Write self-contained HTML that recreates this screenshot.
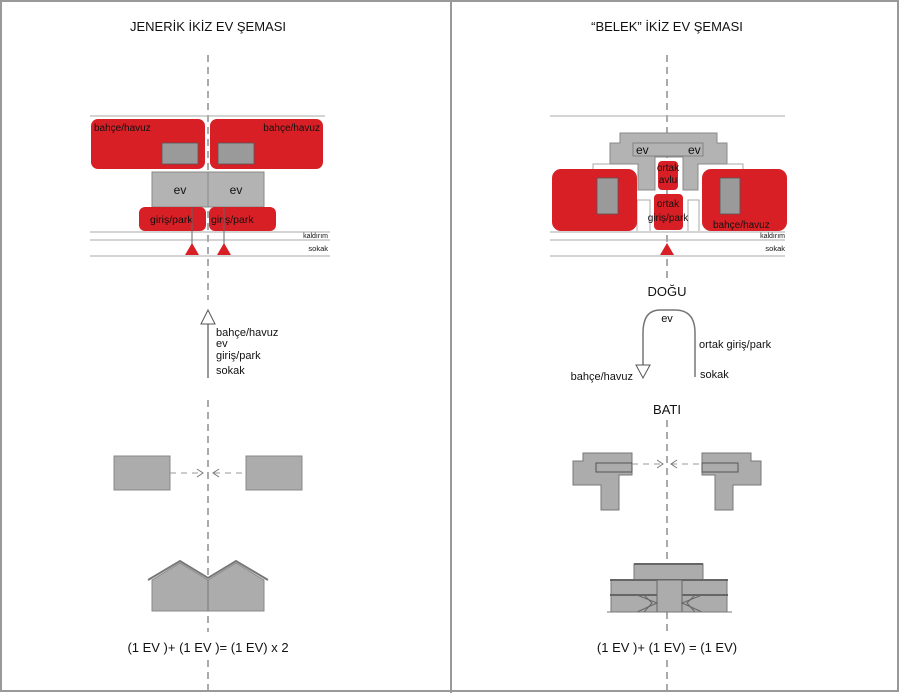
<!DOCTYPE html>
<html><head><meta charset="utf-8"><style>
html,body{margin:0;padding:0;background:#fff}
svg{display:block}
text{font-family:"Liberation Sans",sans-serif;fill:#111}
</style></head><body>
<svg width="900" height="693" viewBox="0 0 900 693" xmlns="http://www.w3.org/2000/svg">
<rect x="1" y="1" width="897" height="690" fill="none" stroke="#999" stroke-width="2"/>
<line x1="451" y1="0" x2="451" y2="693" stroke="#999" stroke-width="2"/>

<!-- LEFT -->
<text x="208" y="31" font-size="13" text-anchor="middle">JENERİK İKİZ EV ŞEMASI</text>
<line x1="208" y1="55" x2="208" y2="300" stroke="#aaa" stroke-width="2" stroke-dasharray="7,5"/>
<line x1="208" y1="400" x2="208" y2="632" stroke="#aaa" stroke-width="2" stroke-dasharray="7,5"/>
<line x1="208" y1="660" x2="208" y2="690" stroke="#aaa" stroke-width="2" stroke-dasharray="7,5"/>
<line x1="90" y1="116" x2="325" y2="116" stroke="#aaa"/>
<rect x="91" y="119" width="114" height="50" rx="7" fill="#d81f26"/>
<rect x="210" y="119" width="113" height="50" rx="7" fill="#d81f26"/>
<rect x="162" y="143" width="36" height="21" fill="#9a9a9a" stroke="#555" stroke-width="0.8"/>
<rect x="218" y="143" width="36" height="21" fill="#9a9a9a" stroke="#555" stroke-width="0.8"/>
<text x="94" y="131" font-size="10">bahçe/havuz</text>
<text x="320" y="131" font-size="10" text-anchor="end">bahçe/havuz</text>
<rect x="152" y="172" width="112" height="35" fill="#b3b3b3" stroke="#888"/>
<line x1="208" y1="172" x2="208" y2="207" stroke="#888"/>
<text x="180" y="194" font-size="12" text-anchor="middle">ev</text>
<text x="236" y="194" font-size="12" text-anchor="middle">ev</text>
<rect x="139" y="207" width="67" height="24" rx="6" fill="#d81f26"/>
<rect x="209" y="207" width="67" height="24" rx="6" fill="#d81f26"/>
<text x="150" y="223" font-size="10.5">giriş/park</text>
<text x="211" y="223" font-size="10.5">giriş/park</text>
<line x1="90" y1="232" x2="330" y2="232" stroke="#aaa"/>
<line x1="90" y1="240" x2="330" y2="240" stroke="#aaa"/>
<line x1="90" y1="256" x2="330" y2="256" stroke="#aaa"/>
<text x="328" y="238" font-size="7" text-anchor="end">kaldırım</text>
<text x="328" y="251" font-size="7.5" text-anchor="end">sokak</text>
<line x1="192" y1="207" x2="192" y2="245" stroke="#666"/>
<line x1="224" y1="207" x2="224" y2="245" stroke="#666"/>
<polygon points="192,243 185,255 199,255" fill="#d81f26"/>
<polygon points="224,243 217,255 231,255" fill="#d81f26"/>
<line x1="208" y1="324" x2="208" y2="378" stroke="#777" stroke-width="1.5"/>
<polygon points="208,310 201,324 215,324" fill="#fff" stroke="#555"/>
<text x="216" y="336" font-size="11">bahçe/havuz</text>
<text x="216" y="347" font-size="11">ev</text>
<text x="216" y="359" font-size="11">giriş/park</text>
<text x="216" y="374" font-size="11">sokak</text>
<rect x="114" y="456" width="56" height="34" fill="#acacac" stroke="#888"/>
<rect x="246" y="456" width="56" height="34" fill="#acacac" stroke="#888"/>
<line x1="170" y1="473" x2="202" y2="473" stroke="#999" stroke-dasharray="6,5"/>
<line x1="214" y1="473" x2="246" y2="473" stroke="#999" stroke-dasharray="6,5"/>
<polyline points="197,469 203,473 197,477" fill="none" stroke="#777"/>
<polyline points="219,469 213,473 219,477" fill="none" stroke="#777"/>
<polygon points="152,580 180,563 208,580 236,563 264,580 264,611 152,611" fill="#acacac" stroke="#888"/>
<polyline points="148,580 180,561 208,578 236,561 268,580" fill="none" stroke="#777" stroke-width="2"/>
<line x1="208" y1="580" x2="208" y2="611" stroke="#777"/>
<text x="208" y="652" font-size="13" text-anchor="middle">(1 EV )+ (1 EV )= (1 EV) x 2</text>

<!-- RIGHT -->
<text x="667" y="31" font-size="13" text-anchor="middle">“BELEK” İKİZ EV ŞEMASI</text>
<line x1="667" y1="55" x2="667" y2="280" stroke="#aaa" stroke-width="2" stroke-dasharray="7,5"/>
<line x1="667" y1="420" x2="667" y2="632" stroke="#aaa" stroke-width="2" stroke-dasharray="7,5"/>
<line x1="667" y1="660" x2="667" y2="690" stroke="#aaa" stroke-width="2" stroke-dasharray="7,5"/>
<line x1="550" y1="116" x2="785" y2="116" stroke="#aaa"/>
<polygon points="620,133 717,133 717,143 727,143 727,164 698,164 698,190 683,190 683,157 655,157 655,190 638,190 638,164 610,164 610,143 620,143" fill="#b3b3b3" stroke="#888"/>
<rect x="633" y="143" width="70" height="13" fill="none" stroke="#777" stroke-width="0.8"/>
<text x="636" y="154" font-size="12">ev</text>
<text x="688" y="154" font-size="12">ev</text>
<polyline points="593,231 593,164 610,164" fill="none" stroke="#aaa"/>
<polyline points="743,231 743,164 727,164" fill="none" stroke="#aaa"/>
<polyline points="637,231 637,200 650,200 650,231" fill="none" stroke="#aaa"/>
<polyline points="699,231 699,200 688,200 688,231" fill="none" stroke="#aaa"/>
<rect x="552" y="169" width="85" height="62" rx="9" fill="#d81f26"/>
<rect x="702" y="169" width="85" height="62" rx="9" fill="#d81f26"/>
<rect x="597" y="178" width="21" height="36" fill="#9a9a9a" stroke="#555" stroke-width="0.8"/>
<rect x="720" y="178" width="20" height="36" fill="#9a9a9a" stroke="#555" stroke-width="0.8"/>
<rect x="658" y="161" width="20" height="29" rx="4" fill="#d81f26"/>
<text x="668" y="171" font-size="10" text-anchor="middle">ortak</text>
<text x="668" y="183" font-size="10" text-anchor="middle">avlu</text>
<rect x="654" y="194" width="29" height="36" rx="4" fill="#d81f26"/>
<text x="668" y="207" font-size="10" text-anchor="middle">ortak</text>
<text x="668" y="221" font-size="10" text-anchor="middle">giriş/park</text>
<text x="713" y="228" font-size="10">bahçe/havuz</text>
<line x1="550" y1="232" x2="785" y2="232" stroke="#aaa"/>
<line x1="550" y1="240" x2="785" y2="240" stroke="#aaa"/>
<line x1="550" y1="256" x2="785" y2="256" stroke="#aaa"/>
<text x="785" y="238" font-size="7" text-anchor="end">kaldırım</text>
<text x="785" y="251" font-size="7.5" text-anchor="end">sokak</text>
<polygon points="667,243 660,255 674,255" fill="#d81f26"/>
<text x="667" y="296" font-size="13" text-anchor="middle">DOĞU</text>
<path d="M695,377 L695,333 Q695,310 675,310 L660,310 Q643,310 643,333 L643,366" fill="none" stroke="#777" stroke-width="1.5"/>
<polygon points="636,365 650,365 643,378" fill="#fff" stroke="#555"/>
<text x="667" y="322" font-size="11" text-anchor="middle">ev</text>
<text x="699" y="348" font-size="11">ortak giriş/park</text>
<text x="700" y="378" font-size="11">sokak</text>
<text x="633" y="380" font-size="11" text-anchor="end">bahçe/havuz</text>
<text x="667" y="414" font-size="13" text-anchor="middle">BATI</text>
<polygon points="583,453 632,453 632,475 619,475 619,510 601,510 601,485 573,485 573,461 583,461" fill="#acacac" stroke="#777"/>
<rect x="596" y="463" width="36" height="9" fill="none" stroke="#555"/>
<polygon points="751,453 702,453 702,475 715,475 715,510 733,510 733,485 761,485 761,461 751,461" fill="#acacac" stroke="#777"/>
<rect x="702" y="463" width="36" height="9" fill="none" stroke="#555"/>
<line x1="632" y1="464" x2="663" y2="464" stroke="#999" stroke-dasharray="6,5"/>
<line x1="671" y1="464" x2="702" y2="464" stroke="#999" stroke-dasharray="6,5"/>
<polyline points="657,460 663,464 657,468" fill="none" stroke="#777"/>
<polyline points="677,460 671,464 677,468" fill="none" stroke="#777"/>
<rect x="634" y="564" width="69" height="16" fill="#acacac" stroke="#777"/>
<line x1="634" y1="564" x2="703" y2="564" stroke="#666" stroke-width="2"/>
<rect x="611" y="580" width="116" height="32" fill="#acacac" stroke="#777"/>
<line x1="610" y1="580" x2="728" y2="580" stroke="#666" stroke-width="2"/>
<line x1="610" y1="595" x2="728" y2="595" stroke="#666" stroke-width="2"/>
<rect x="657" y="580" width="25" height="32" fill="#acacac" stroke="#666"/>
<polyline points="637,595 657,603 637,612" fill="none" stroke="#666"/>
<polyline points="644,595 652,603 644,612" fill="none" stroke="#666"/>
<polyline points="702,595 682,603 702,612" fill="none" stroke="#666"/>
<polyline points="695,595 687,603 695,612" fill="none" stroke="#666"/>
<line x1="607" y1="612" x2="732" y2="612" stroke="#777"/>
<text x="667" y="652" font-size="13" text-anchor="middle">(1 EV )+ (1 EV) = (1 EV)</text>
</svg>
</body></html>
